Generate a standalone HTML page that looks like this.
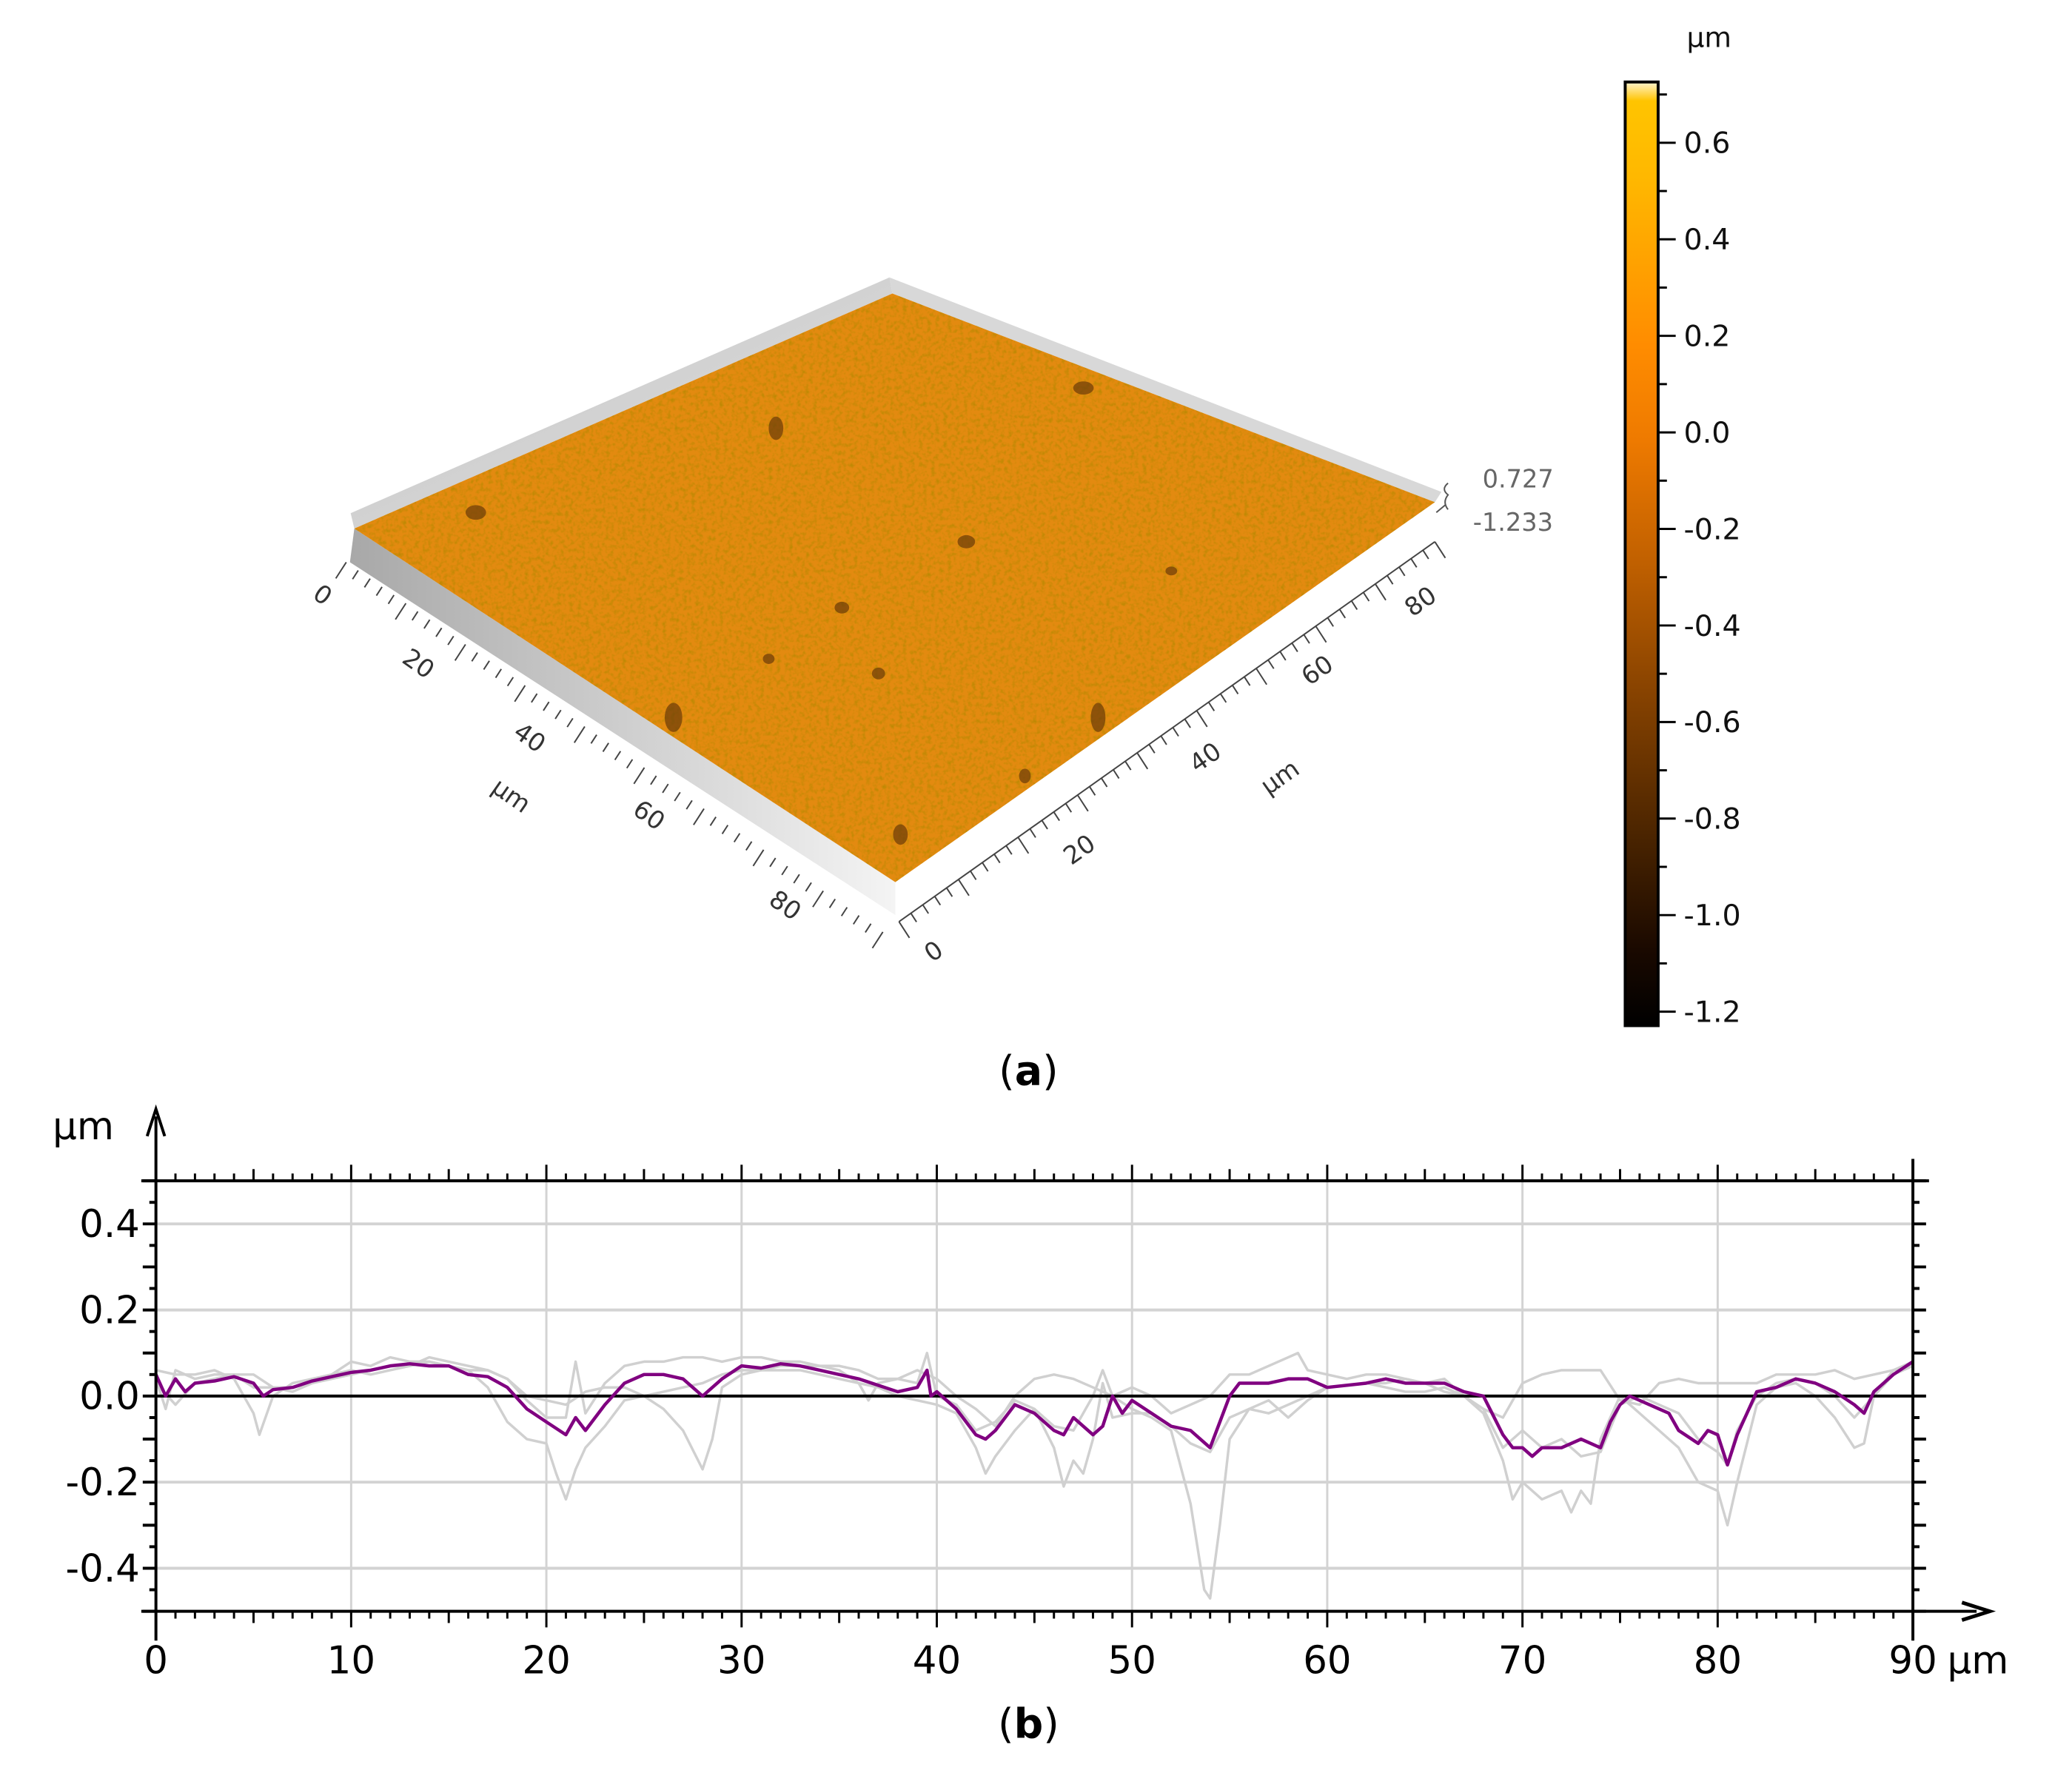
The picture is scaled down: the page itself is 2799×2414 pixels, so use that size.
<!DOCTYPE html>
<html><head><meta charset="utf-8">
<style>
html,body{margin:0;padding:0;background:#fff;}
svg{display:block;}
text{font-family:"DejaVu Sans","Liberation Sans",sans-serif;}
</style></head>
<body>
<svg id="fig" width="2799" height="2414" viewBox="0 0 2799 2414" xmlns="http://www.w3.org/2000/svg">
<defs>
  <linearGradient id="cbar" x1="0" y1="0" x2="0" y2="1">
    <stop offset="0" stop-color="#fff4d0"/>
    <stop offset="0.02" stop-color="#ffc400"/>
    <stop offset="0.1" stop-color="#ffb800"/>
    <stop offset="0.28" stop-color="#ff8c00"/>
    <stop offset="0.38" stop-color="#ee7a00"/>
    <stop offset="0.5" stop-color="#c46200"/>
    <stop offset="0.65" stop-color="#864200"/>
    <stop offset="0.8" stop-color="#4a2400"/>
    <stop offset="0.92" stop-color="#1a0900"/>
    <stop offset="1" stop-color="#000"/>
  </linearGradient>
  <linearGradient id="wallL" x1="0" y1="0" x2="1" y2="1">
    <stop offset="0" stop-color="#bcbcbc"/><stop offset="1" stop-color="#e8e8e8"/>
  </linearGradient>
  <linearGradient id="wallF" x1="0" y1="0" x2="1" y2="0">
    <stop offset="0" stop-color="#a8a8a8"/><stop offset="1" stop-color="#f4f4f4"/>
  </linearGradient>
  <filter id="grain" x="0" y="0" width="100%" height="100%">
    <feTurbulence type="fractalNoise" baseFrequency="0.18" numOctaves="2" seed="4" result="n"/>
    <feColorMatrix in="n" type="matrix" values="0 0 0 0 0.45  0 0 0 0 0.25  0 0 0 0 0  0 0 0 -2.2 1.25" result="d"/>
    <feComposite in="d" in2="SourceGraphic" operator="in"/>
  </filter>
</defs>
<g transform="scale(0.98893)">
<!-- 3D surface (a) -->
<g>
  <polygon points="479,701 1215,379 1219,401 484,722" fill="url(#wallL)"/>
  <polygon points="1215,379 1969,672 1960,686 1219,401" fill="#d8d8d8"/>
  <polygon points="484,722 1223,1205 1223,1250 478,768" fill="url(#wallF)"/>
  <polygon points="484,722 1219,401 1960,686 1223,1205" fill="#e38a10"/>
  <polygon points="484,722 1219,401 1960,686 1223,1205" fill="#e38a10" filter="url(#grain)" opacity="0.8"/>
  <g fill="#6a3a08" opacity="0.7">
    <ellipse cx="650" cy="700" rx="14" ry="10"/><ellipse cx="1060" cy="585" rx="10" ry="16"/>
    <ellipse cx="1320" cy="740" rx="12" ry="9"/><ellipse cx="1150" cy="830" rx="10" ry="8"/>
    <ellipse cx="920" cy="980" rx="12" ry="20"/><ellipse cx="1500" cy="980" rx="10" ry="20"/>
    <ellipse cx="1230" cy="1140" rx="10" ry="14"/><ellipse cx="1480" cy="530" rx="14" ry="9"/>
    <ellipse cx="1050" cy="900" rx="8" ry="7"/><ellipse cx="1200" cy="920" rx="9" ry="8"/>
    <ellipse cx="1600" cy="780" rx="8" ry="6"/><ellipse cx="1400" cy="1060" rx="8" ry="10"/>
  </g>
  <line x1="473" y1="768" x2="1206" y2="1273" stroke="#fff" stroke-width="2"/>
  <g id="axL" stroke="#444" stroke-width="2"></g>
  <g id="axR" stroke="#444" stroke-width="2"></g>
  <g font-size="34" fill="#333">
    <text transform="translate(434,822) rotate(35)" text-anchor="middle">0</text>
    <text transform="translate(565,916) rotate(35)" text-anchor="middle">20</text>
    <text transform="translate(717,1017) rotate(35)" text-anchor="middle">40</text>
    <text transform="translate(692,1096) rotate(35)" text-anchor="middle">μm</text>
    <text transform="translate(880,1123) rotate(35)" text-anchor="middle">60</text>
    <text transform="translate(1066,1246) rotate(35)" text-anchor="middle">80</text>
    <text transform="translate(1282,1309) rotate(-35)" text-anchor="middle">0</text>
    <text transform="translate(1481,1170) rotate(-35)" text-anchor="middle">20</text>
    <text transform="translate(1653,1044) rotate(-35)" text-anchor="middle">40</text>
    <text transform="translate(1755,1071) rotate(-35)" text-anchor="middle">μm</text>
    <text transform="translate(1806,925) rotate(-35)" text-anchor="middle">60</text>
    <text transform="translate(1947,831) rotate(-35)" text-anchor="middle">80</text>
    <text x="2025" y="666" fill="#666">0.727</text>
    <text x="2012" y="725" fill="#666">-1.233</text>
  </g>
  <path d="M1978,660 q-10,8 0,16 q-8,10 0,20 M1962,700 l12,-10" stroke="#555" stroke-width="2" fill="none"/>
</g>

<!-- colour bar -->
<g>
  <text x="2304" y="64" font-size="38" fill="#111">μm</text>
  <rect x="2220" y="112" width="45" height="1289" fill="url(#cbar)" stroke="#000" stroke-width="4"/>
  <g id="cbTicks" stroke="#000" stroke-width="3"></g>
  <g id="cbLabels" font-size="40" fill="#111"></g>
</g>
<text x="1405" y="1482" font-family="Liberation Serif,serif" font-size="56" text-anchor="middle">(<tspan font-weight="bold">a</tspan>)</text>

<!-- profile chart (b) -->
<g id="chart"></g>
<text x="1405" y="2374" font-family="Liberation Serif,serif" font-size="56" text-anchor="middle">(<tspan font-weight="bold">b</tspan>)</text>
</g>
</svg>

<script>
// ---- data ----
const xTicks = [0,10,20,30,40,50,60,70,80,90];
const yTicks = [0.4,0.2,0.0,-0.2,-0.4];
const yTickLabels = ["0.4","0.2","0.0","-0.2","-0.4"];
const cbTickValues = [0.6,0.4,0.2,0.0,-0.2,-0.4,-0.6,-0.8,-1.0,-1.2];
const cbTickLabels = ["0.6","0.4","0.2","0.0","-0.2","-0.4","-0.6","-0.8","-1.0","-1.2"];

const purpleX = [0,0.5,1,1.5,2,3,4,5,5.5,6,7,8,9,10,11,12,13,14,15,16,17,18,19,20,21,21.5,22,23,24,25,26,27,28,29,30,31,32,33,34,35,36,37,38,39,39.5,39.7,40,41,42,42.5,43,44,45,46,46.5,47,48,48.5,49,49.5,50,51,52,53,54,55,55.5,57,58,59,60,62,63,64,66,67,68,69,69.5,70,70.5,71,72,73,74,74.5,75,75.5,76,77,77.5,78,79,79.5,80,80.5,81,82,83,84,85,86,87,87.5,88,89,90];
const purpleY = [0.05,0.0,0.04,0.01,0.03,0.035,0.045,0.03,0.0,0.015,0.02,0.035,0.045,0.055,0.06,0.07,0.075,0.07,0.07,0.05,0.045,0.02,-0.03,-0.06,-0.09,-0.05,-0.08,-0.02,0.03,0.05,0.05,0.04,0.0,0.04,0.07,0.065,0.075,0.07,0.06,0.05,0.04,0.025,0.01,0.02,0.06,0.0,0.01,-0.03,-0.09,-0.1,-0.08,-0.02,-0.04,-0.08,-0.09,-0.05,-0.09,-0.07,0.0,-0.04,-0.01,-0.04,-0.07,-0.08,-0.12,0.0,0.03,0.03,0.04,0.04,0.02,0.03,0.04,0.03,0.03,0.01,0.0,-0.09,-0.12,-0.12,-0.14,-0.12,-0.12,-0.1,-0.12,-0.06,-0.02,0.0,-0.01,-0.03,-0.04,-0.08,-0.11,-0.08,-0.09,-0.16,-0.09,0.01,0.02,0.04,0.03,0.01,-0.02,-0.04,0.01,0.05,0.08];

const gray1X = [0,1,2,3,4,5,5.3,6,7,8,9,10,11,12,13,14,15,16,17,18,19,20,21,22,23,24,25,26,27,28,28.5,29,30,31,32,33,34,35,36,36.5,37,38,39,40,41,42,43,44,45,46,47,48,49,50,51,52,53,53.7,54,54.5,55,56,57,58,59,60,62,63,64,65,66,67,68,69,70,71,72,73,74,75,76,77,78,79,80,81,82,83,84,85,86,87,88,89,90];
const gray1Y = [0.06,0.05,0.05,0.06,0.04,-0.04,-0.09,0.0,0.03,0.04,0.05,0.08,0.07,0.09,0.08,0.08,0.07,0.06,0.06,0.04,0.0,-0.01,-0.02,0.01,0.02,0.02,0.0,-0.03,-0.08,-0.17,-0.1,0.02,0.05,0.06,0.07,0.07,0.07,0.06,0.03,-0.01,0.03,0.04,0.06,0.04,0.0,-0.03,-0.07,0.0,0.04,0.05,0.04,0.02,0.0,-0.03,-0.05,-0.08,-0.25,-0.45,-0.47,-0.3,-0.1,-0.03,-0.01,-0.05,-0.01,0.02,0.03,0.02,0.01,0.01,0.02,0.0,-0.03,-0.05,0.03,0.05,0.06,0.06,0.06,-0.01,-0.02,0.03,0.04,0.03,0.03,0.03,0.03,0.05,0.05,0.05,0.06,0.04,0.05,0.06,0.07];

const gray2X = [0,1,2,3,4,5,6,7,8,9,10,11,12,13,14,15,16,17,18,19,20,20.5,21,21.5,22,23,24,25,26,27,28,29,30,31,32,33,34,35,36,37,38,39,40,41,42,42.5,43,44,45,46,46.5,47,47.5,48,48.5,49,50,51,52,53,54,55,56,57,58,59,60,62,63,64,65,66,67,68,69,69.5,70,71,72,72.5,73,73.5,74,75,76,77,78,79,80,80.5,81,82,83,84,85,86,87,87.5,88,89,90];
const gray2Y = [0.03,-0.02,0.03,0.04,0.05,0.02,0.02,0.01,0.03,0.04,0.05,0.06,0.07,0.07,0.08,0.07,0.06,0.02,-0.06,-0.1,-0.11,-0.18,-0.24,-0.17,-0.12,-0.07,-0.01,0.0,0.01,0.02,0.03,0.05,0.06,0.06,0.06,0.06,0.05,0.04,0.03,0.02,0.0,-0.01,-0.02,-0.04,-0.12,-0.18,-0.14,-0.08,-0.03,-0.12,-0.21,-0.15,-0.18,-0.1,0.03,-0.05,-0.04,-0.04,-0.07,-0.11,-0.13,-0.05,-0.03,-0.04,-0.02,0.0,0.02,0.03,0.03,0.04,0.03,0.01,0.0,-0.04,-0.15,-0.24,-0.2,-0.24,-0.22,-0.27,-0.22,-0.25,-0.1,0.0,-0.04,-0.08,-0.12,-0.2,-0.22,-0.3,-0.2,-0.02,0.02,0.03,0.0,-0.05,-0.12,-0.11,0.0,0.05,0.07];

const gray3X = [0,0.5,1,2,3,4,5,6,7,8,9,10,11,12,13,14,15,16,17,18,19,20,21,21.5,22,23,24,25,26,27,28,29,30,31,32,33,34,35,36,37,38,39,39.5,40,41,42,43,44,45,46,47,48,48.5,49,50,51,52,53,54,55,56,57,58,58.5,59,60,61,62,63,64,65,66,67,68,69,70,71,72,73,74,75,76,77,78,79,80,80.5,81,82,83,84,85,86,87,88,89,90];
const gray3Y = [0.04,-0.03,0.06,0.04,0.05,0.05,0.05,0.02,0.02,0.03,0.05,0.06,0.05,0.06,0.07,0.09,0.08,0.07,0.06,0.04,-0.01,-0.05,-0.05,0.08,-0.04,0.03,0.07,0.08,0.08,0.09,0.09,0.08,0.09,0.09,0.08,0.08,0.07,0.07,0.06,0.04,0.04,0.03,0.1,0.0,-0.02,-0.08,-0.06,-0.01,-0.03,-0.07,-0.08,0.0,0.06,0.0,0.02,0.0,-0.04,-0.02,0.0,0.05,0.05,0.07,0.09,0.1,0.06,0.05,0.04,0.05,0.05,0.04,0.03,0.04,0.0,-0.03,-0.12,-0.08,-0.12,-0.1,-0.14,-0.13,-0.02,0.0,-0.02,-0.04,-0.1,-0.13,-0.16,-0.08,0.0,0.03,0.04,0.03,0.0,-0.05,0.0,0.06,0.08];

// ---- helpers ----
const NS = "http://www.w3.org/2000/svg";
function mk(tag, attrs, parent){ const e=document.createElementNS(NS,tag); for(const k in attrs) e.setAttribute(k,attrs[k]); parent.appendChild(e); return e; }

// ---- 3D axis ticks ----
const axL = document.getElementById('axL');
for(let i=0;i<=45;i++){
  const t=i/45, x=473+(1206-473)*t, y=768+(1273-768)*t, L=(i%5===0)?26:14;
  const tk = mk('line',{x1:x,y1:y,x2:x-L*0.55,y2:y+L*0.85},axL);
  
  
}
const axR = document.getElementById('axR');
mk('line',{x1:1228,y1:1259,x2:1960,y2:740},axR);
for(let i=0;i<=45;i++){
  const t=i/45, x=1228+(1960-1228)*t, y=1259+(740-1259)*t, L=(i%5===0)?26:14;
  const tk = mk('line',{x1:x,y1:y,x2:x+L*0.55,y2:y+L*0.85},axR);
  
  
}

// ---- colour bar ticks ----
const cbY = v => 195 + (0.6 - v) * 659.4;
const cbT = document.getElementById('cbTicks'), cbL = document.getElementById('cbLabels');
for(let k=-12;k<=7;k++){
  const v=k/10, y=cbY(v), major=(k%2===0);
  if(y<114||y>1399) continue;
  const tk = mk('line',{x1:2265,y1:y,x2:2265+(major?24:12),y2:y},cbT);
  
  
}
cbTickValues.forEach((v,i)=>{
  const t = mk('text',{x:2300,y:cbY(v)+14},cbL);
  t.textContent = cbTickLabels[i];
  
  
});

// ---- profile chart ----
const chart = document.getElementById('chart');
const X0=213, X1=2613, Y0=1613, Y1=2201;
const xs = v => X0 + (v/90)*(X1-X0);
const ys = v => Y0 + (0.5 - v)*(Y1-Y0);

xTicks.forEach(v=>{ if(v>0&&v<90){ const g=mk('line',{x1:xs(v),y1:Y0,x2:xs(v),y2:Y1,stroke:'#d3d3d3','stroke-width':3},chart);
    }});
yTicks.forEach(v=>{ if(v!==0){ const g=mk('line',{x1:X0,y1:ys(v),x2:X1,y2:ys(v),stroke:'#d3d3d3','stroke-width':4},chart);
    }});

function series(X,Y,color,w,name){
  const d = X.map((x,i)=>(i?'L':'M')+xs(x).toFixed(1)+','+ys(Y[i]).toFixed(1)).join(' ');
  const p = mk('path',{d:d,fill:'none',stroke:color,'stroke-width':w,'stroke-linejoin':'round'},chart);
  
  
}
series(gray1X,gray1Y,'#d0d0d0',3.5,'profile-gray-1');
series(gray2X,gray2Y,'#d0d0d0',3.5,'profile-gray-2');
series(gray3X,gray3Y,'#d0d0d0',3.5,'profile-gray-3');

const zl = mk('line',{x1:X0,y1:ys(0),x2:X1,y2:ys(0),stroke:'#000','stroke-width':4},chart);
 

series(purpleX,purpleY,'#800080',4.5,'profile-purple');

const frame = mk('g',{stroke:'#000','stroke-width':4},chart);
mk('line',{x1:X0-20,y1:Y0,x2:X1+22,y2:Y0},frame);
mk('line',{x1:X0-20,y1:Y1,x2:2700,y2:Y1},frame);
mk('line',{x1:X0,y1:1525,x2:X0,y2:Y1+40},frame);
mk('line',{x1:X1,y1:Y0-30,x2:X1,y2:Y1+40},frame);


const ua = mk('path',{d:`M${X0-12},1552 L${X0},1515 L${X0+12},1552`,fill:'none',stroke:'#000','stroke-width':4},chart);
 
const ra = mk('path',{d:`M2680,${Y1-12} L2718,${Y1} L2680,${Y1+12}`,fill:'none',stroke:'#000','stroke-width':5},chart);
 

const tk = mk('g',{stroke:'#000','stroke-width':3},chart);
 
for(let v=0; v<=90; v++){
  const x=xs(v), L=(v%10===0)?22:(v%5===0?16:10);
  mk('line',{x1:x,y1:Y1,x2:x,y2:Y1+L},tk);
  mk('line',{x1:x,y1:Y0,x2:x,y2:Y0-L},tk);
}
const yt = mk('g',{stroke:'#000','stroke-width':4},chart);
 
for(let k=-10;k<=10;k++){
  const v=k/20, y=ys(v); if(Math.abs(v)>0.5) continue;
  const L=(k%2===0)?18:9;
  mk('line',{x1:X0,y1:y,x2:X0-L,y2:y},yt);
  mk('line',{x1:X1,y1:y,x2:X1+L,y2:y},yt);
}
xTicks.forEach(v=>{
  const t=mk('text',{x:xs(v),y:2286,'font-size':52,'text-anchor':'middle',fill:'#000'},chart);
  t.textContent=String(v);
  
  
});
yTicks.forEach((v,i)=>{
  const t=mk('text',{x:X0-22,y:ys(v)+18,'font-size':52,'text-anchor':'end',fill:'#000'},chart);
  t.textContent=yTickLabels[i];
  
  
});
const xu=mk('text',{x:2660,y:2286,'font-size':52,fill:'#000'},chart);
xu.textContent='μm';
 
const yu=mk('text',{x:72,y:1556,'font-size':52,fill:'#000'},chart);
yu.textContent='μm';
 
</script>
</body></html>
